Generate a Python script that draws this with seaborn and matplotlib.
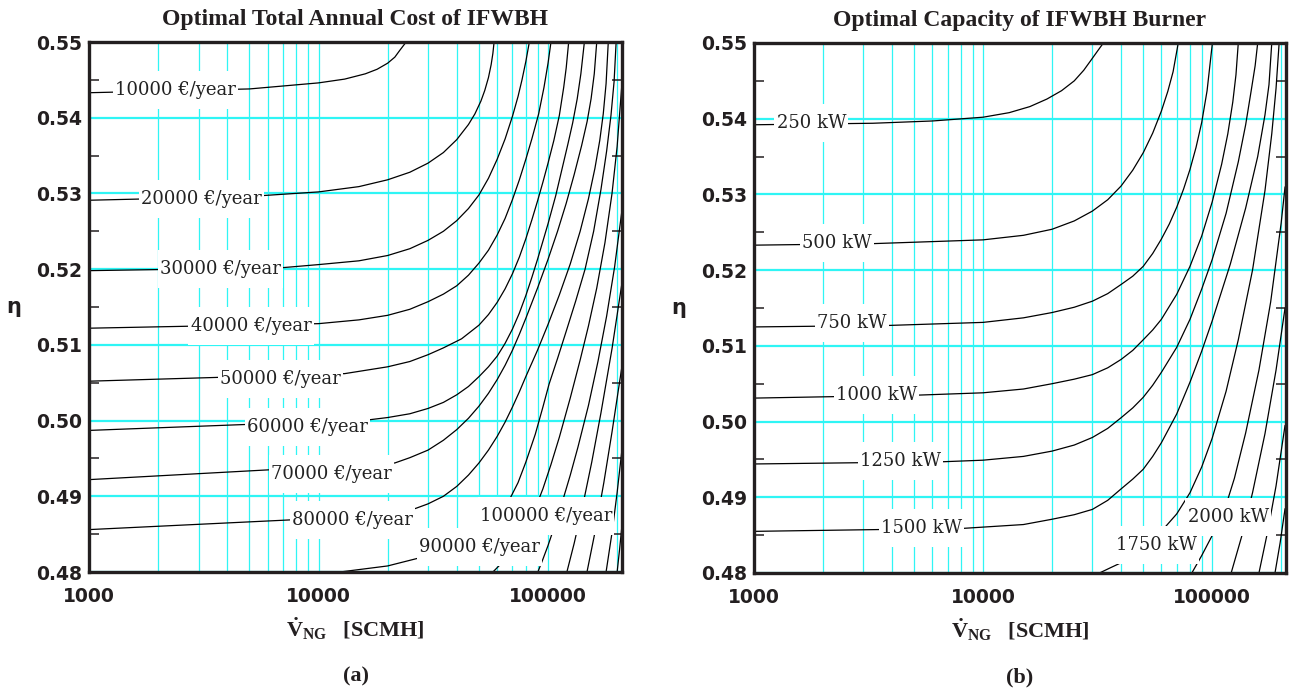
import numpy as np
import pandas as pd
import matplotlib
matplotlib.use("Agg")
import matplotlib.pyplot as plt
import seaborn as sns
from matplotlib.path import Path
from matplotlib.ticker import LogLocator, MultipleLocator, FixedLocator, FuncFormatter, NullFormatter

# =========================
# Data: contour lines as (V_NG [SCMH], eta) points
# =========================

# (a) Optimal total annual cost [€/year]
cost_10k = [(1000, .5433), (5000, .5438), (10000, .5446), (13000, .5451), (16000, .5458),
            (18000, .5464), (20000, .5472), (21500, .5480), (22600, .5489), (23400, .5495),
            (24100, .5500)]
cost_20k = [(1000, .5291), (5000, .5296), (10000, .5302), (15000, .5309), (20000, .5318),
            (25000, .5328), (30000, .5340), (35000, .5354), (40000, .5371), (45000, .5391),
            (48000, .5405), (51000, .5422), (53000, .5436), (55000, .5453), (56500, .5470),
            (57500, .5485), (58200, .5500)]
cost_30k = [(1000, .5198), (7000, .5202), (10000, .5206), (15000, .5211), (20000, .5218),
            (25000, .5227), (30000, .5238), (35000, .5250), (40000, .5264), (45000, .5280),
            (50000, .5298), (55000, .5320), (60000, .5345), (65000, .5372), (70000, .5402),
            (74000, .5428), (77000, .5450), (80000, .5474), (82900, .5500)]
cost_40k = [(1000, .5122), (10000, .5128), (15000, .5133), (20000, .5139), (25000, .5147),
            (30000, .5157), (35000, .5167), (40000, .5178), (45000, .5192), (50000, .5208),
            (55000, .5225), (60000, .5245), (65000, .5267), (70000, .5292), (75000, .5318),
            (80000, .5345), (85000, .5372), (91000, .5405), (96000, .5440), (100000, .5472),
            (103000, .5500)]
cost_50k = [(1000, .5052), (13000, .5062), (20000, .5071), (25000, .5078), (30000, .5087),
            (35000, .5096), (42000, .5108), (50000, .5126), (55000, .5140), (60000, .5156),
            (65000, .5174), (70000, .5194), (75000, .5216), (80000, .5240), (85000, .5265),
            (90000, .5290), (95000, .5315), (100000, .5340), (106000, .5370), (112000, .5403),
            (117000, .5440), (120000, .5466), (123000, .5500)]
cost_60k = [(1000, .4987), (16600, .5001), (20000, .5004), (25000, .5009), (30000, .5016),
            (35000, .5024), (40000, .5034), (45000, .5045), (50000, .5058), (55000, .5071),
            (60000, .5085), (65000, .5102), (70000, .5121), (75000, .5142), (80000, .5165),
            (85000, .5189), (90000, .5213), (95000, .5237), (100000, .5260), (108000, .5297),
            (115000, .5332), (122000, .5365), (128000, .5393), (134000, .5425), (139000, .5458),
            (144000, .5500)]
cost_70k = [(1000, .4922), (21500, .4944), (25000, .4951), (30000, .4961), (35000, .4974),
            (40000, .4988), (45000, .5003), (50000, .5019), (55000, .5036), (60000, .5054),
            (65000, .5073), (70000, .5093), (75000, .5114), (80000, .5135), (90000, .5175),
            (100000, .5213), (110000, .5250), (120000, .5287), (130000, .5325), (140000, .5363),
            (148000, .5395), (154000, .5425), (159000, .5458), (163000, .5500)]
cost_80k = [(1000, .4856), (20000, .4875), (26500, .4884), (30000, .4890), (35000, .4900),
            (40000, .4913), (45000, .4928), (50000, .4944), (55000, .4961), (60000, .4979),
            (65000, .4998), (70000, .5018), (75000, .5038), (80000, .5058), (90000, .5093),
            (100000, .5127), (112000, .5166), (125000, .5207), (138000, .5250), (150000, .5293),
            (160000, .5333), (168000, .5370), (174000, .5405), (179000, .5445), (183000, .5500)]
cost_90k = [(12400, .4800), (20000, .4808), (27000, .4818), (35000, .4830), (42000, .4842),
            (47000, .4852), (53000, .4862), (58000, .4873), (63000, .4884), (68000, .4896),
            (74000, .4918), (80000, .4945), (88000, .4982), (95000, .5018), (101000, .5048),
            (110000, .5082), (120000, .5118), (132000, .5158), (145000, .5200), (158000, .5250),
            (170000, .5305), (180000, .5356), (188000, .5403), (194000, .5448), (198000, .5500)]
cost_100k = [(57500, .4800), (62000, .4810), (67000, .4822), (72000, .4835), (77000, .4849),
             (82000, .4864), (88000, .4884), (95000, .4910), (103000, .4942), (112000, .4978),
             (125000, .5030), (138000, .5080), (150000, .5125), (163000, .5175), (177000, .5235),
             (190000, .5300), (200000, .5362), (210000, .5446)]
cost_110k = [(90300, .4800), (95000, .4817), (100000, .4835), (108000, .4865), (116000, .4895),
             (125000, .4928), (135000, .4965), (150000, .5020), (165000, .5078), (180000, .5138),
             (195000, .5203), (210000, .5278)]
cost_120k = [(120800, .4800), (130000, .4838), (141000, .4885), (155000, .4945), (170000, .5010),
             (190000, .5095), (210000, .5182)]
cost_130k = [(147800, .4800), (160000, .4852), (175000, .4918), (190000, .4985), (210000, .5072)]
cost_140k = [(179000, .4800), (190000, .4852), (200000, .4905), (210000, .4962)]
cost_150k = [(200000, .4800), (205000, .4830), (210000, .4862)]

cost_levels = [10000, 20000, 30000, 40000, 50000, 60000, 70000, 80000, 90000,
               100000, 110000, 120000, 130000, 140000, 150000]
cost_lines = [cost_10k, cost_20k, cost_30k, cost_40k, cost_50k, cost_60k, cost_70k, cost_80k,
              cost_90k, cost_100k, cost_110k, cost_120k, cost_130k, cost_140k, cost_150k]
cost_labels = ["10000 €/year", "20000 €/year", "30000 €/year", "40000 €/year", "50000 €/year",
               "60000 €/year", "70000 €/year", "80000 €/year", "90000 €/year", "100000 €/year"]

# (b) Optimal burner capacity [kW]
cap_250 = [(1000, .5392), (3300, .5394), (6000, .5397), (10000, .5402), (13000, .5408),
           (16000, .5416), (19000, .5426), (22000, .5437), (25000, .5450), (27500, .5464),
           (29700, .5478), (31700, .5490), (33500, .5500)]
cap_500 = [(1000, .5233), (3300, .5235), (10000, .5240), (15000, .5246), (20000, .5254),
           (25000, .5265), (30000, .5278), (35000, .5293), (40000, .5311), (45000, .5332),
           (50000, .5355), (55000, .5381), (60000, .5410), (64000, .5436), (67500, .5462),
           (71100, .5500)]
cap_750 = [(1000, .5125), (3900, .5127), (10000, .5131), (15000, .5137), (20000, .5144),
           (25000, .5151), (30000, .5159), (35000, .5169), (40000, .5181), (45000, .5192),
           (50000, .5205), (55000, .5222), (60000, .5241), (65000, .5261), (70000, .5283),
           (75000, .5307), (80000, .5333), (85000, .5362), (90000, .5395), (95000, .5437),
           (100200, .5500)]
cap_1000 = [(1000, .5031), (5280, .5035), (10000, .5038), (15000, .5043), (20000, .5050),
            (25000, .5056), (30000, .5062), (35000, .5071), (40000, .5082), (45000, .5094),
            (50000, .5108), (55000, .5121), (60000, .5135), (70000, .5168), (80000, .5205),
            (90000, .5245), (100000, .5290), (110000, .5340), (117000, .5380), (123000, .5422),
            (127000, .5458), (130000, .5500)]
cap_1250 = [(1000, .4944), (6750, .4947), (10000, .4949), (15000, .4954), (20000, .4961),
            (25000, .4969), (30000, .4979), (35000, .4991), (40000, .5005), (45000, .5018),
            (50000, .5032), (55000, .5048), (60000, .5065), (70000, .5098), (80000, .5135),
            (90000, .5175), (100000, .5214), (115000, .5275), (130000, .5343), (140000, .5392),
            (148000, .5437), (154000, .5470), (158000, .5500)]
cap_1500 = [(1000, .4855), (8240, .4859), (15000, .4864), (20000, .4871), (25000, .4877),
            (30000, .4884), (35000, .4896), (40000, .4911), (45000, .4924), (50000, .4937),
            (55000, .4954), (60000, .4972), (70000, .5010), (80000, .5052), (90000, .5093),
            (100000, .5133), (120000, .5208), (140000, .5282), (158000, .5350), (170000, .5405),
            (177000, .5445), (182000, .5500)]
cap_1750 = [(32200, .4800), (36000, .4807), (41000, .4815), (46000, .4825), (52000, .4838),
            (60000, .4855), (70000, .4878), (80000, .4906), (90000, .4940), (100000, .4978),
            (115000, .5040), (130000, .5108), (150000, .5200), (170000, .5305), (182000, .5380),
            (190000, .5440), (196000, .5500)]
cap_2000 = [(81500, .4800), (90000, .4823), (101000, .4852), (115000, .4890), (125000, .4925),
            (140000, .4985), (160000, .5068), (180000, .5158), (200000, .5262), (208000, .5310)]
cap_2250 = [(121000, .4800), (135000, .4850), (150000, .4906), (170000, .4984), (190000, .5068),
            (208000, .5150)]
cap_2500 = [(160000, .4800), (175000, .4856), (190000, .4915), (208000, .4995)]
cap_2750 = [(188000, .4800), (198000, .4840), (208000, .4885)]

cap_levels = [250, 500, 750, 1000, 1250, 1500, 1750, 2000, 2250, 2500, 2750]
cap_lines = [cap_250, cap_500, cap_750, cap_1000, cap_1250, cap_1500, cap_1750, cap_2000,
             cap_2250, cap_2500, cap_2750]
cap_labels = ["250 kW", "500 kW", "750 kW", "1000 kW", "1250 kW", "1500 kW", "1750 kW", "2000 kW"]

# where the inline labels sit (V, eta)
cost_label_pos = [(2380, .5437), (3100, .5293), (3740, .5200), (5080, .5125), (6840, .5055),
                  (8920, .4991), (11360, .4929), (14090, .4869), (50300, .4833), (97900, .4874)]
cap_label_pos = [(1780, .5394), (2300, .5236), (2680, .5130), (3420, .5035), (4350, .4948),
                 (5370, .4860), (57200, .4837), (117500, .4874)]

x_ticks = [1000, 10000, 100000]
y_ticks = [0.48, 0.49, 0.50, 0.51, 0.52, 0.53, 0.54, 0.55]


def to_frame(levels, lines):
    rows = []
    for lev, pts in zip(levels, lines):
        for v, e in pts:
            rows.append((lev, v, e))
    return pd.DataFrame(rows, columns=["level", "V", "eta"])


def tall_box(x0, y0, width, height, mutation_size):
    # white knock-out box, a bit taller than the text like the original
    px = 0.12 * mutation_size
    py = 0.55 * mutation_size
    return Path([(x0 - px, y0 - py), (x0 + width + px, y0 - py),
                 (x0 + width + px, y0 + height + py), (x0 - px, y0 + height + py),
                 (x0 - px, y0 - py)], closed=True)


sns.set_theme(style="white")
plt.rcParams["font.family"] = ["DejaVu Sans"]
plt.rcParams["mathtext.fontset"] = "custom"
plt.rcParams["mathtext.rm"] = "Liberation Serif:bold"
plt.rcParams["mathtext.bf"] = "Liberation Serif:bold"
plt.rcParams["mathtext.it"] = "Liberation Serif:bold"

grid_c = "#2ff5f5"
ink = "#231f20"

fig = plt.figure(figsize=(12.9, 6.91), dpi=100)
ax_a = fig.add_axes([89 / 1290, 1 - 572 / 691, 533 / 1290, 530 / 691])
ax_b = fig.add_axes([754 / 1290, 1 - 573 / 691, 532 / 1290, 530 / 691])

panels = [
    (ax_a, to_frame(cost_levels, cost_lines), cost_labels, cost_label_pos,
     "Optimal Total Annual Cost of IFWBH", "(a)"),
    (ax_b, to_frame(cap_levels, cap_lines), cap_labels, cap_label_pos,
     "Optimal Capacity of IFWBH Burner", "(b)"),
]

for ax, df, labels, label_pos, title, tag in panels:
    ax.set_xscale("log")
    ax.set_facecolor("white")

    sns.lineplot(data=df, x="V", y="eta", units="level", estimator=None, sort=False,
                 color="black", lw=0.9, legend=False, ax=ax, zorder=2)

    for txt, (v, e) in zip(labels, label_pos):
        ax.text(v, e, txt, ha="center", va="center", fontsize=13, family="DejaVu Serif",
                color="#222222", zorder=3,
                bbox=dict(boxstyle=tall_box, fc="white", ec="none"))

    ax.set_xlim(1000, 2.1e5)
    ax.set_ylim(0.48, 0.55)

    ax.xaxis.set_major_locator(FixedLocator(x_ticks))
    ax.xaxis.set_minor_locator(LogLocator(base=10, subs=np.arange(2, 10), numticks=20))
    ax.xaxis.set_major_formatter(FuncFormatter(lambda v, p: f"{v:.0f}"))
    ax.xaxis.set_minor_formatter(NullFormatter())
    ax.yaxis.set_major_locator(FixedLocator(y_ticks))
    ax.yaxis.set_minor_locator(MultipleLocator(0.005))
    ax.yaxis.set_major_formatter(FuncFormatter(lambda v, p: f"{v:.2f}"))

    ax.grid(True, which="both", axis="x", color=grid_c, lw=0.9, zorder=0.5)
    ax.grid(True, which="major", axis="y", color=grid_c, lw=1.6, zorder=0.5)
    ax.set_axisbelow(True)

    ax.tick_params(axis="both", which="major", length=0, labelsize=13.5, colors=ink)
    ax.tick_params(axis="x", which="major", pad=11)
    ax.tick_params(axis="y", which="major", pad=5)
    ax.tick_params(axis="x", which="minor", length=0)
    ax.tick_params(axis="y", which="minor", direction="in", length=7, width=1.1,
                   color=ink, left=True, right=True)
    for lab in ax.get_xticklabels() + ax.get_yticklabels():
        lab.set_fontweight("bold")

    for sp in ax.spines.values():
        sp.set_visible(True)
        sp.set_color(ink)
        sp.set_linewidth(2.4)
        sp.set_zorder(4)

    ax.set_title(title, fontsize=17, fontweight="bold", family="Liberation Serif",
                 color=ink, pad=12)
    ax.set_xlabel(r"$\dot{V}_{NG}$   [SCMH]", fontsize=16, fontweight="bold",
                  family="Liberation Serif", color=ink)
    ax.xaxis.set_label_coords(0.5, -0.082)
    ax.set_ylabel("η", rotation=0, fontsize=15, fontweight="bold", family="DejaVu Sans",
                  color=ink, va="center", ha="center")
    ax.yaxis.set_label_coords(-0.141, 0.5)
    ax.text(0.5, -0.198, tag, transform=ax.transAxes, ha="center", va="center",
            fontsize=16, fontweight="bold", family="Liberation Serif", color=ink)

fig.savefig("out.png", dpi=100)
